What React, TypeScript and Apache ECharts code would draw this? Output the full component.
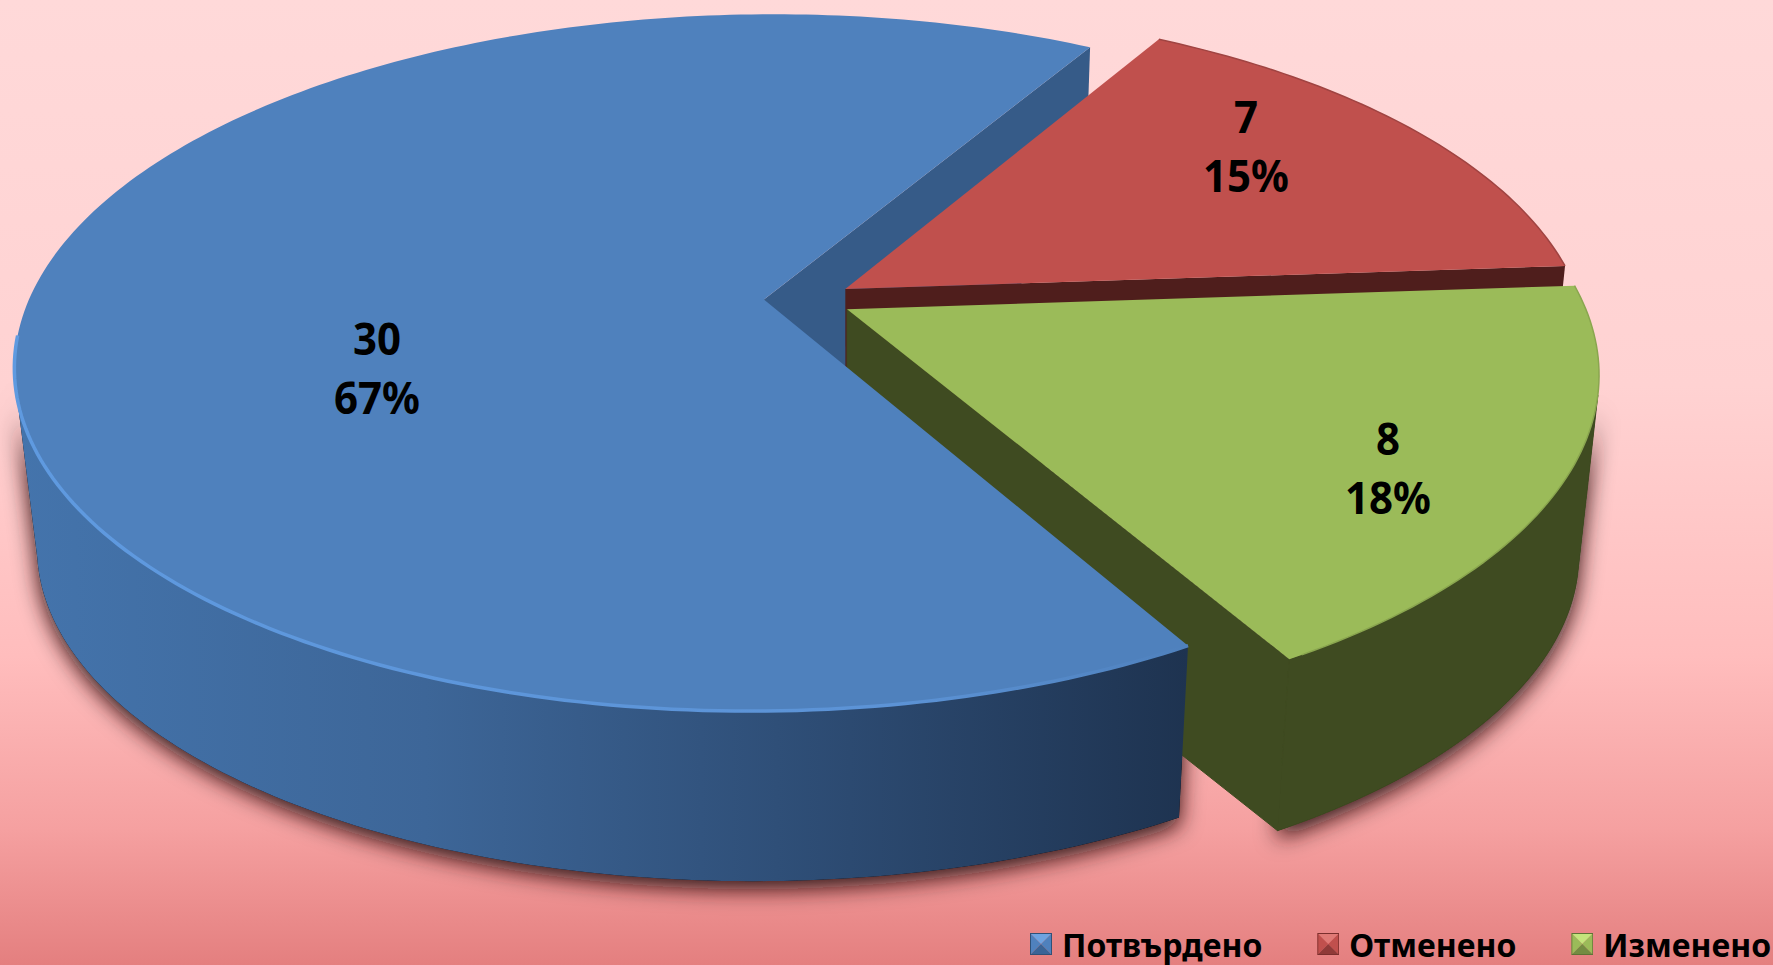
import React, { useEffect, useRef } from "react";
import * as echarts from "echarts";

const categories = ["Потвърдено", "Отменено", "Изменено"];
const values = [30, 7, 8];
const percentLabels = [67, 15, 18];
const topColors = ["#4f81bd", "#c0504d", "#9bbb59"];
const wallColors = ["#365b88", "#4f1e1c", "#3f4b21"];
const iconShades = [
  ["#6fa3e0", "#4f81bd", "#3a6496", "#2f5178"],
  ["#e07a76", "#c0504d", "#8f3a38", "#7a2f2d"],
  ["#c4e47c", "#9bbb59", "#748c42", "#5f7335"],
];

// layout of the perspective view, in page pixels
const W = 1773, H = 965;
const CX = 808, CY = 299.6, RA = 735, RB = 337, PERSP = 0.181, EXPLODE = 0.06, SHEAR = 0.01;
const BASE_T = 0.973, BASE_DX = 23, BASE_DY = 189.3;
const START_DEG = 60;
const BLUE_SILHOUETTE_DEG = 167, GREEN_SILHOUETTE_DEG = 374;
const labelPos = [[377, 367], [1246, 145], [1388, 467]];
const FONT = '"Noto Sans", sans-serif';

const total = values.reduce((a, b) => a + b, 0);

function sliceAngles(i: number) {
  let s = START_DEG;
  for (let j = 0; j < i; j++) s += (values[j] / total) * 360;
  return [s, s + (values[i] / total) * 360];
}

function project(u: number, v: number) {
  const w = 1 - PERSP * v;
  const dy = (RB * v) / w;
  return [CX + (RA * u) / w - SHEAR * dy, CY + dy];
}
const toBase = (p: number[]) => [BASE_T * p[0] + BASE_DX, BASE_T * p[1] + BASE_DY];

function pointsFor(i: number) {
  const [s, e] = sliceAngles(i);
  const mid = (((s + e) / 2) * Math.PI) / 180;
  const ox = EXPLODE * Math.cos(mid), oy = EXPLODE * Math.sin(mid);
  const at = (deg: number) => {
    const t = (deg * Math.PI) / 180;
    return project(ox + Math.cos(t), oy + Math.sin(t));
  };
  const arc = (a: number, b: number) => {
    const n = Math.max(4, Math.ceil(Math.abs(b - a)));
    const out: number[][] = [];
    for (let k = 0; k <= n; k++) out.push(at(a + ((b - a) * k) / n));
    return out;
  };
  return { s, e, apex: project(ox, oy), at, arc };
}

function band(top: number[][]) {
  return [...top, ...top.slice().reverse().map(toBase)];
}

function poly(points: number[][], fill: any, z2: number, extra: any = {}) {
  return { type: "polygon", z2, silent: true, shape: { points }, style: { fill, ...extra } };
}
function line(points: number[][], stroke: any, lineWidth: number, z2: number) {
  return { type: "polyline", z2, silent: true, shape: { points }, style: { stroke, lineWidth, fill: "none" } };
}

const SHADOW = { shadowColor: "rgba(40,10,10,0.95)", shadowBlur: 22, shadowOffsetY: 8, shadowOffsetX: 0 };

function renderSlice(i: number) {
  const g = pointsFor(i);
  const children: any[] = [];
  const arcAll = g.arc(g.s, g.e);
  if (i === 0) {
    const pe = g.at(g.e);
    children.push(poly([g.apex, pe, toBase(pe), toBase(g.apex)], wallColors[0], 0));
    const front = g.arc(g.s, BLUE_SILHOUETTE_DEG);
    children.push(poly(band(front), "#000", -1, SHADOW));
    children.push(
      poly(
        band(front),
        new echarts.graphic.LinearGradient(0, 0, 1, 0, [
          { offset: 0, color: "#4474ac" },
          { offset: 0.35, color: "#3d6698" },
          { offset: 0.65, color: "#2f4f78" },
          { offset: 1, color: "#1e3350" },
        ]),
        5
      )
    );
    children.push(poly([g.apex, ...arcAll], topColors[0], 6));
    children.push(
      line(
        g.arc(g.s, 174),
        new echarts.graphic.LinearGradient(1, 0, 0, 0, [
          { offset: 0, color: "#4f81bd" },
          { offset: 0.25, color: "#5c93d6" },
          { offset: 1, color: "#5f9ae0" },
        ]),
        3.5,
        7
      )
    );
  } else if (i === 1) {
    const pe = g.at(g.e);
    children.push(poly([g.apex, pe, toBase(pe), toBase(g.apex)], wallColors[1], 1));
    children.push(poly([g.apex, ...arcAll], topColors[1], 2));
    children.push(line(arcAll, "#a04442", 1.5, 2));
  } else {
    const ps = g.at(g.e);
    const outer = g.arc(GREEN_SILHOUETTE_DEG, g.e);
    const stroke = { stroke: wallColors[2], lineWidth: 1 };
    children.push(poly(band(outer), "#000", -1, SHADOW));
    children.push(poly([g.apex, ps, toBase(ps), toBase(g.apex)], wallColors[2], 3, stroke));
    children.push(poly(band(outer), wallColors[2], 3, stroke));
    children.push(poly([g.apex, ...arcAll], topColors[2], 4));
    children.push(line(arcAll.slice(0, arcAll.length - 1), "#8aa64f", 1.5, 4));
  }
  children.push({
    type: "text",
    z2: 20,
    silent: true,
    x: labelPos[i][0],
    y: labelPos[i][1],
    scaleY: 1.08,
    style: {
      text: `${values[i]}\n${percentLabels[i]}%`,
      x: 0,
      y: 0,
      fill: "#000",
      font: `bold 42px ${FONT}`,
      lineHeight: 54.5,
      align: "center",
      verticalAlign: "middle",
    },
  });
  return { type: "group", children };
}

function bevelIcon(c: string[]) {
  const svg =
    `<svg xmlns="http://www.w3.org/2000/svg" width="22" height="22">` +
    `<polygon points="0,0 22,0 11,11" fill="${c[0]}"/>` +
    `<polygon points="0,0 11,11 0,22" fill="${c[1]}"/>` +
    `<polygon points="22,0 11,11 22,22" fill="${c[1]}"/>` +
    `<polygon points="0,22 22,22 11,11" fill="${c[2]}"/>` +
    `<rect x="0.5" y="0.5" width="21" height="21" fill="none" stroke="${c[3]}"/></svg>`;
  return "image://data:image/svg+xml;charset=utf-8," + encodeURIComponent(svg);
}

export default function App() {
  const ref = useRef<HTMLDivElement>(null);
  useEffect(() => {
    document.body.style.margin = "0";
    document.documentElement.style.overflow = "hidden";
    const chart = echarts.init(ref.current!, undefined, { renderer: "svg" });
    chart.setOption({
      animation: false,
      backgroundColor: new echarts.graphic.LinearGradient(0, 0, 0, 1, [
        { offset: 0, color: "#ffd9d9" },
        { offset: 0.4, color: "#ffd2d2" },
        { offset: 0.68, color: "#ffbdbd" },
        { offset: 0.86, color: "#f5a0a0" },
        { offset: 1, color: "#e47f7f" },
      ]),
      legend: {
        left: 1030,
        top: 928,
        padding: 0,
        itemWidth: 22,
        itemHeight: 22,
        itemGap: 55,
        selectedMode: false,
        data: categories.map((name, i) => ({ name, icon: bevelIcon(iconShades[i]) })),
        textStyle: {
          color: "#000",
          fontFamily: FONT,
          fontWeight: "bold",
          fontSize: 32,
          padding: [0, 0, 0, 5],
        },
      },
      series: categories.map((name, i) => ({
        type: "custom",
        name,
        coordinateSystem: "none",
        silent: true,
        color: topColors[i],
        data: [values[i]],
        renderItem: () => renderSlice(i),
      })),
    });
    return () => chart.dispose();
  }, []);
  return <div ref={ref} style={{ width: W, height: H }} />;
}
